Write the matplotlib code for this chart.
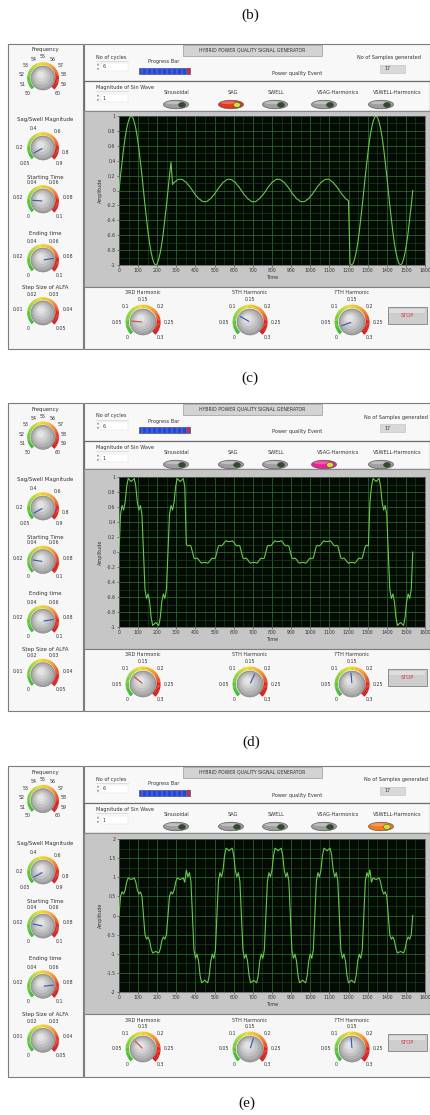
import matplotlib
matplotlib.use("Agg")
import matplotlib.pyplot as plt
from matplotlib.patches import Rectangle, Circle, Wedge, Ellipse
from matplotlib.colors import LinearSegmentedColormap
from matplotlib.ticker import MultipleLocator
import math

plt.rcParams['font.family'] = ['DejaVu Sans']

# ---------------------------------------------------------------- data
# sample times (one sample every 8 time units), shared by the three records
time_samples = list(range(0, 1537, 8))

# (b)/(c) SAG event
sag_event = [
    0, .20, .38, .56, .71, .83, .92, .98, 1, .98, .92, .83, .71, .56, .38, .20,
    0, -.20, -.38, -.56, -.71, -.83, -.92, -.98, -1, -.98, -.92, -.83, -.71, -.56, -.38, -.20,
    0, .20, .38,
    .08, .11, .12, .14, .15, .15, .15, .14, .12, .11, .08, .06, .03,
    0, -.03, -.06, -.08, -.11, -.12, -.14, -.15, -.15, -.15, -.14, -.12, -.11, -.08, -.06, -.03,
    0, .03, .06, .08, .11, .12, .14, .15, .15, .15, .14, .12, .11, .08, .06, .03,
    0, -.03, -.06, -.08, -.11, -.12, -.14, -.15, -.15, -.15, -.14, -.12, -.11, -.08, -.06, -.03,
    0, .03, .06, .08, .11, .12, .14, .15, .15, .15, .14, .12, .11, .08, .06, .03,
    0, -.03, -.06, -.08, -.11, -.12, -.14, -.15, -.15, -.15, -.14, -.12, -.11, -.08, -.06, -.03,
    0, .03, .06, .08, .11, .12, .14, .15, .15, .15, .14, .12, .11, .08, .06, .03,
    0, -.03, -.06, -.08, -.11, -.12, -.14,
    -.98, -1, -.98, -.92, -.83, -.71, -.56, -.38, -.20,
    0, .20, .38, .56, .71, .83, .92, .98, 1, .98, .92, .83, .71, .56, .38, .20,
    0, -.20, -.38, -.56, -.71, -.83, -.92, -.98, -1, -.98, -.92, -.83, -.71, -.56, -.38, -.20,
    0,
]

# (c)/(d) VSAG with harmonics
vsag_harmonics = [
    0, .50, .62, .56, .66, .87, .98, .96, .94, .96, .98, .87, .66, .56, .62, .50,
    0, -.50, -.62, -.56, -.66, -.87, -.98, -.96, -.94, -.96, -.98, -.87, -.66, -.56, -.62, -.50,
    0, .50, .62, .56, .66, .87, .98, .96, .94, .96, .98, .87,
    .10, .08, .09, .08,
    0, -.08, -.09, -.08, -.10, -.13, -.15, -.14, -.14, -.14, -.15, -.13, -.10, -.08, -.09, -.08,
    0, .08, .09, .08, .10, .13, .15, .14, .14, .14, .15, .13, .10, .08, .09, .08,
    0, -.08, -.09, -.08, -.10, -.13, -.15, -.14, -.14, -.14, -.15, -.13, -.10, -.08, -.09, -.08,
    0, .08, .09, .08, .10, .13, .15, .14, .14, .14, .15, .13, .10, .08, .09, .08,
    0, -.08, -.09, -.08, -.10, -.13, -.15, -.14, -.14, -.14, -.15, -.13, -.10, -.08, -.09, -.08,
    0, .08, .09, .08, .10, .13, .15, .14, .14, .14, .15, .13, .10, .08, .09, .08,
    0, -.08, -.09, -.08, -.10, -.13, -.15, -.14, -.14, -.14, -.15, -.13, -.10, -.08, -.09, -.08,
    0, .08, .09, .08,
    .66, .87, .98, .96, .94, .96, .98, .87, .66, .56, .62, .50,
    0, -.50, -.62, -.56, -.66, -.87, -.98, -.96, -.94, -.96, -.98, -.87, -.66, -.56, -.62, -.50,
    0,
]

# (d)/(e) VSWELL with harmonics
vswell_harmonics = [
    0, .50, .62, .56, .66, .87, .98, .96, .94, .96, .98, .87, .66, .56, .62, .50,
    0, -.50, -.62, -.56, -.66, -.87, -.98, -.96, -.94, -.96, -.98, -.87, -.66, -.56, -.62, -.50,
    0, .50, .62, .56, .66, .87, .98, .96, .94, .96, .98, .87,
    1.19, 1.01, 1.12, .90,
    0, -.90, -1.12, -1.01, -1.19, -1.57, -1.76, -1.73, -1.69, -1.73, -1.76, -1.57, -1.19, -1.01, -1.12, -.90,
    0, .90, 1.12, 1.01, 1.19, 1.57, 1.76, 1.73, 1.69, 1.73, 1.76, 1.57, 1.19, 1.01, 1.12, .90,
    0, -.90, -1.12, -1.01, -1.19, -1.57, -1.76, -1.73, -1.69, -1.73, -1.76, -1.57, -1.19, -1.01, -1.12, -.90,
    0, .90, 1.12, 1.01, 1.19, 1.57, 1.76, 1.73, 1.69, 1.73, 1.76, 1.57, 1.19, 1.01, 1.12, .90,
    0, -.90, -1.12, -1.01, -1.19, -1.57, -1.76, -1.73, -1.69, -1.73, -1.76, -1.57, -1.19, -1.01, -1.12, -.90,
    0, .90, 1.12, 1.01, 1.19, 1.57, 1.76, 1.73, 1.69, 1.73, 1.76, 1.57, 1.19, 1.01, 1.12, .90,
    0, -.90, -1.12, -1.01, -1.19, -1.57, -1.76, -1.73, -1.69, -1.73, -1.76, -1.57, -1.19, -1.01, -1.12, -.90,
    0, .90, 1.12, 1.01, 1.19,
    .87, .98, .96, .94, .96, .98, .87, .66, .56, .62, .50,
    0, -.50, -.62, -.56, -.66, -.87, -.98, -.96, -.94, -.96, -.98, -.87, -.66, -.56, -.62, -.50,
    0,
]

captions = ['(b)', '(c)', '(d)', '(e)']
event_buttons = ['Sinusoidal', 'SAG', 'SWELL', 'VSAG-Harmonics', 'VSWELL-Harmonics']
active_event = ['SAG', 'VSAG-Harmonics', 'VSWELL-Harmonics']
records = [sag_event, vsag_harmonics, vswell_harmonics]

x_ticks = list(range(0, 1601, 100))
y_ticks_small = [-1, -0.8, -0.6, -0.4, -0.2, 0, 0.2, 0.4, 0.6, 0.8, 1]
y_ticks_large = [-2, -1.5, -1, -0.5, 0, 0.5, 1, 1.5, 2]

frequency_scale = [50, 51, 52, 53, 54, 55, 56, 57, 58, 59, 60]
sag_swell_scale = [0.05, 0.2, 0.4, 0.6, 0.8, 0.9]
start_time_scale = [0, 0.02, 0.04, 0.06, 0.08, 0.1]
end_time_scale = [0, 0.02, 0.04, 0.06, 0.08, 0.1]
alfa_scale = [0, 0.01, 0.02, 0.03, 0.04, 0.05]
harmonic_scale = [0, 0.05, 0.1, 0.15, 0.2, 0.25, 0.3]
harmonic_names = ['3RD Harmonic', '5TH Harmonic', '7TH Harmonic']

# knob settings read from the needles (None = needle not visible)
sag_swell_setting = [0.10, 0.10, 0.10]
start_time_setting = [0.018, 0.02, 0.021]
end_time_setting = [0.080, 0.080, 0.081]
harmonic_setting = [[0.055, 0.083, 0.028], [0.094, 0.178, 0.144], [0.100, 0.170, 0.145]]
no_of_cycles = '6'
sin_magnitude = '1'
samples_generated = '17'

# ---------------------------------------------------------------- layout
W, H = 431, 1115
fig = plt.figure(figsize=(W / 100, H / 100), dpi=100)
bg = fig.add_axes([0, 0, 1, 1])
bg.set_xlim(0, W)
bg.set_ylim(H, 0)
bg.axis('off')

panels = [
    dict(T=44, row1=81, row2=111, ptop=116, pbot=265, gbot=287, bot=349, big=False, samp=357),
    dict(T=403, row1=441, row2=469, ptop=477, pbot=627, gbot=649, bot=711, big=False, samp=364),
    dict(T=766, row1=803, row2=833, ptop=839, pbot=992, gbot=1014, bot=1077, big=True, samp=364),
]
caption_pos = [(250, 15), (250, 378), (251, 742), (247, 1103)]
active_colors = ['#e5341f', '#ea1f9c', '#f27b1f']
button_label_x = [177, 233, 276, 338, 397]
button_x = [176, 231, 275, 324, 381]

TXT = '#333333'
arc_cmap = LinearSegmentedColormap.from_list(
    'knob', [(0, '#2cb52c'), (0.28, '#8fd23a'), (0.45, '#ecdc2a'), (0.6, '#f3ad27'),
             (0.72, '#ee6a22'), (0.82, '#e02a1c'), (1, '#cf1616')])


def rect(x0, y0, x1, y1, fc, ec='#8a8a8a', lw=0.6, z=1):
    bg.add_patch(Rectangle((x0, y0), x1 - x0, y1 - y0, facecolor=fc, edgecolor=ec, lw=lw, zorder=z))


def txt(x, y, s, fs=3.6, ha='center', color=TXT, **kw):
    bg.text(x, y, s, fontsize=fs, ha=ha, va='center', color=color, zorder=6, **kw)


def fmt(v):
    return f'{v:g}'


def knob(cx, cy, r, scale, needle=None, ncol='#3a5ab8', fs=3.4, gap=1.2, aw=3.0, lab=7.5):
    lo, hi = scale[0], scale[-1]
    n = 60
    outer = r + gap + aw
    for j in range(n):
        t0, t1 = j / n, (j + 1) / n
        w = aw + 1.5 * max(0.0, (t0 - 0.7) / 0.3)
        bg.add_patch(Wedge((cx, cy), outer + 0.4 * max(0.0, (t0 - 0.7) / 0.3), t0 * 270 - 225,
                           t1 * 270 - 225 + 0.6, width=w,
                           facecolor=arc_cmap(t0), edgecolor='none', zorder=3))
    bg.add_patch(Circle((cx, cy), r, facecolor='#a0a0a0', edgecolor='#7c7c7c', lw=0.4, zorder=4))
    for s, col in [(0.86, '#b2b2b2'), (0.68, '#c3c3c3'), (0.5, '#d3d3d3'), (0.3, '#e3e3e3')]:
        bg.add_patch(Circle((cx - (1 - s) * r * 0.25, cy - (1 - s) * r * 0.35), r * s,
                            facecolor=col, edgecolor='none', zorder=4))
    for v in scale:
        frac = (v - lo) / (hi - lo)
        phi = math.radians(225 - frac * 270)
        R = outer + lab
        s = fmt(v)
        half_w = 0.55 * len(s) * fs * 1.39 * 0.6
        x = cx + R * math.cos(phi) + math.copysign(half_w - 2.5, math.cos(phi)) * abs(math.cos(phi)) * (len(s) > 2)
        y = cy - R * math.sin(phi)
        txt(x, y, s, fs=fs)
    if needle is not None:
        frac = (needle - lo) / (hi - lo)
        phi = math.radians(225 - frac * 270)
        bg.plot([cx + 0.1 * r * math.cos(phi), cx + 0.85 * r * math.cos(phi)],
                [cy - 0.1 * r * math.sin(phi), cy - 0.85 * r * math.sin(phi)],
                color=ncol, lw=0.85, zorder=5, solid_capstyle='round')


def spinner(x, y, value):
    txt(x, y - 2.2, '▲', fs=1.8, color='#777777')
    txt(x, y + 2.2, '▼', fs=1.8, color='#777777')
    rect(x + 3, y - 4, x + 30, y + 4, '#ffffff', ec='#dddddd', lw=0.3, z=2)
    txt(x + 4.5, y, value, fs=3.4, ha='left')


def button(cx, cy, active_col=None):
    fc = active_col if active_col else '#9e9e9e'
    bg.add_patch(Ellipse((cx, cy), 25, 8.5, facecolor=fc, edgecolor='#5a5a5a', lw=0.5, zorder=3))
    hl = '#ffffff' if active_col is None else '#ffd0c0'
    bg.add_patch(Ellipse((cx - 2, cy - 1.8), 17, 3.0, facecolor=hl, alpha=0.35, edgecolor='none', zorder=3))
    led = '#c8e63a' if active_col else '#2f4d2b'
    bg.add_patch(Ellipse((cx + 6, cy + 0.4), 7, 5, facecolor=led, edgecolor='#3a3a3a', lw=0.3, zorder=4))


for (cx, cy), cap in zip(caption_pos, captions):
    bg.text(cx, cy, cap, fontsize=11, ha='center', va='center', family='Liberation Serif', color='#111111')

for k, P in enumerate(panels):
    T, row1, row2, gbot, bot = P['T'], P['row1'], P['row2'], P['gbot'], P['bot']
    hgt = bot - T
    sc = hgt / 305.0

    # ---------- left column with the knobs
    rect(8, T, 83, bot, '#f7f7f7', ec='#7d7d7d', lw=0.8)
    left_knobs = [
        ('Frequency', 6, 34, frequency_scale, None),
        ('Sag/Swell Magnitude', 76, 104, sag_swell_scale, sag_swell_setting[k]),
        ('Starting Time', 133, 157, start_time_scale, start_time_setting[k]),
        ('Ending time', 189, 216, end_time_scale, end_time_setting[k]),
        ('Step Size of ALFA', 244, 269, alfa_scale, None),
    ]
    for title, ty, ky, scale, nd in left_knobs:
        txt(45, T + ty * sc, title, fs=3.9)
        knob(43, T + ky * sc, 12, scale, nd, gap=0.8, aw=3.0, lab=5.5)

    # ---------- header rows
    rect(84, T, 430, row1, '#f8f8f8', ec='#7d7d7d', lw=0.8)
    rect(84, row1, 430, row2, '#f8f8f8', ec='#6d6d6d', lw=0.9)
    rect(183, T + 0.5, 322, T + 12, '#d3d3d3', ec='#9a9a9a', lw=0.5, z=2)
    txt(252, T + 6, 'HYBRID POWER QUALITY SIGNAL GENERATOR', fs=3.3)
    txt(111, T + 13, 'No of cycles', fs=3.6)
    bg.plot([96, 128], [T + 17, T + 17], color='#c8c8c8', lw=0.4, zorder=3)
    spinner(98, T + 23, no_of_cycles)
    txt(164, T + 18, 'Progress Bar', fs=3.6)
    rect(139, T + 24, 190, T + 30, '#2548d8', ec='#404060', lw=0.4, z=2)
    for xs in range(142, 189, 5):
        bg.plot([xs, xs], [T + 24.5, T + 29.5], color='#8ea6ff', lw=0.35, zorder=3)
    rect(187.5, T + 24, 190, T + 30, '#c8303a', ec='none', lw=0, z=3)
    txt(297, T + 29, 'Power quality Event', fs=3.6)
    txt(P['samp'], T + 14, 'No of Samples generated', fs=3.6, ha='left')
    rect(380, T + 21, 405, T + 29, '#d8d8d8', ec='#c0c0c0', lw=0.4, z=2)
    txt(384, T + 25, samples_generated, fs=3.4, ha='left')

    txt(96, row1 + 6, 'Magnitude of Sin Wave', fs=3.6, ha='left')
    bg.plot([96, 128], [row1 + 10, row1 + 10], color='#c8c8c8', lw=0.4, zorder=3)
    spinner(98, row1 + 17, sin_magnitude)
    for name, lx, bx in zip(event_buttons, button_label_x, button_x):
        txt(lx, row1 + 11, name, fs=3.6)
        button(bx, row1 + 23.5, active_colors[k] if name == active_event[k] else None)

    # ---------- graph frame
    rect(84, row2, 430, gbot, '#c6c6c6', ec='#8a8a8a', lw=0.8)

    # ---------- harmonic knobs and stop button
    rect(84, gbot, 430, bot, '#f7f7f7', ec='#7d7d7d', lw=0.8)
    for hx, hname, hv, ncol in zip([143, 250, 352], harmonic_names, harmonic_setting[k],
                                   ['#d04a4a', '#3a5ab8', '#3a5ab8']):
        txt(hx, gbot + 6, hname, fs=3.5)
        knob(hx, gbot + 35, 13, harmonic_scale, hv, ncol=ncol, gap=1.0, aw=3.4, lab=5.0)
    rect(388, gbot + 20, 427, gbot + 37, '#cdcdcd', ec='#8d8d8d', lw=0.7, z=2)
    rect(389.5, gbot + 21.5, 425.5, gbot + 26, '#dedede', ec='none', lw=0, z=2)
    txt(407.5, gbot + 28.5, 'STOP', fs=3.7, color='#e0303a')

    # ---------- waveform graph
    ax = fig.add_axes([119 / W, 1 - P['pbot'] / H, (425 - 119) / W, (P['pbot'] - P['ptop']) / H])
    ax.set_facecolor('#040a04')
    ax.plot(time_samples, records[k], color='#66c94c', lw=0.8, zorder=3)
    ax.set_xlim(0, 1600)
    yt = y_ticks_large if P['big'] else y_ticks_small
    ax.set_ylim(yt[0], yt[-1])
    ax.set_xticks(x_ticks)
    ax.set_xticklabels([fmt(v) for v in x_ticks])
    ax.set_yticks(yt)
    ax.set_yticklabels([fmt(v) for v in yt])
    ax.xaxis.set_minor_locator(MultipleLocator(50))
    ax.yaxis.set_minor_locator(MultipleLocator(0.25 if P['big'] else 0.1))
    ax.grid(which='major', color='#327532', lw=0.5)
    ax.grid(which='minor', color='#1e4a1e', lw=0.4)
    ax.set_axisbelow(True)
    ax.tick_params(which='major', labelsize=3.3, length=1.5, width=0.4, pad=1, colors='#333333')
    ax.tick_params(which='minor', length=0)
    for sp in ax.spines.values():
        sp.set_color('#555555')
        sp.set_linewidth(0.5)
    ax.set_xlabel('Time', fontsize=3.5, labelpad=0.8, color='#333333')
    ax.set_ylabel('Amplitude', fontsize=3.5, labelpad=2.5, color='#333333')

fig.savefig('out.png', dpi=100, facecolor='white')
